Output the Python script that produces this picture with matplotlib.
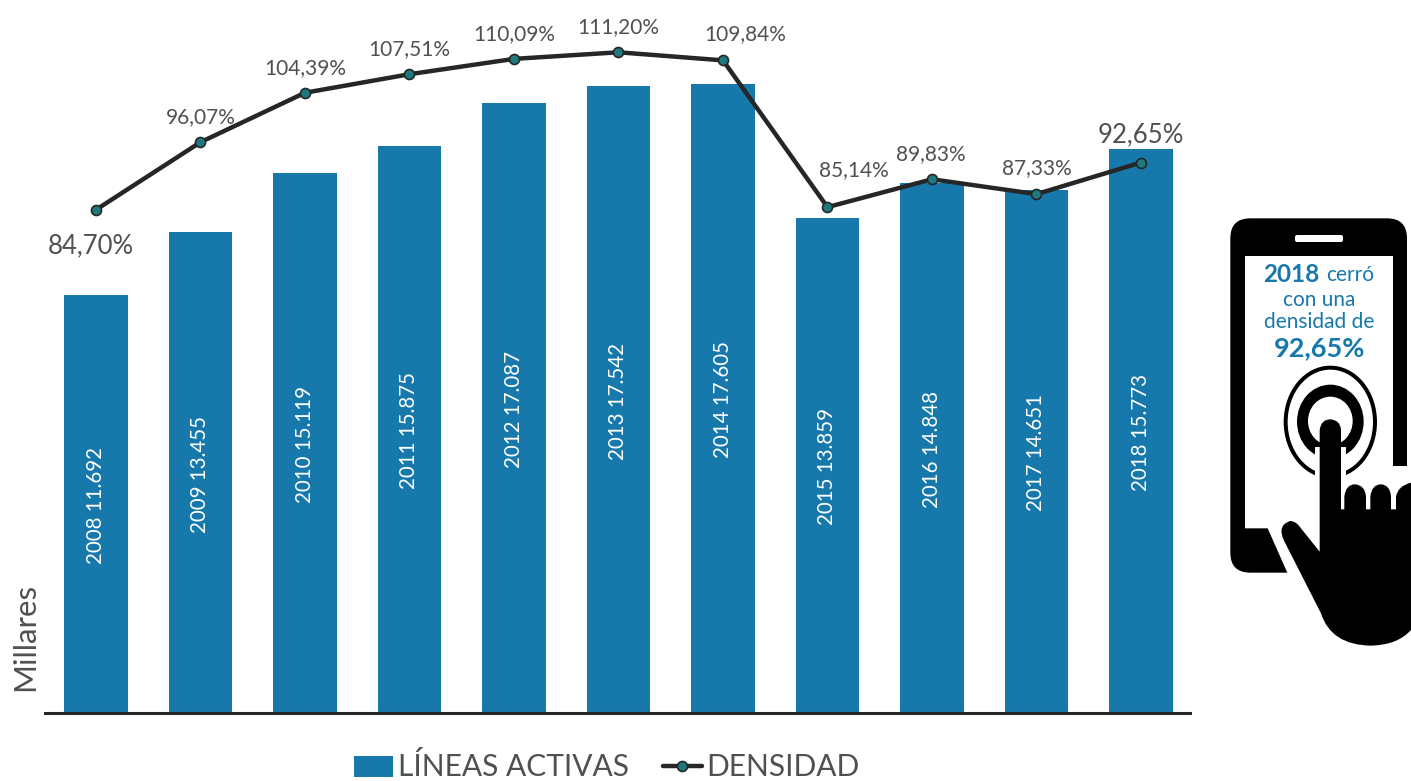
#!/usr/bin/env python3
"""Lineas activas (bars) and densidad (line), 2008-2018, with the phone icon on the right."""

import matplotlib

matplotlib.use("Agg")
import matplotlib.pyplot as plt
from matplotlib.patches import Ellipse, FancyBboxPatch, PathPatch, Polygon
from matplotlib.path import Path

plt.rcParams["font.family"] = ["Lato", "DejaVu Sans"]

YEARS = [2008, 2009, 2010, 2011, 2012, 2013, 2014, 2015, 2016, 2017, 2018]
LINEAS = [11692, 13455, 15119, 15875, 17087, 17542, 17605, 13859, 14848, 14651, 15773]
DENSIDAD = [84.70, 96.07, 104.39, 107.51, 110.09, 111.20, 109.84, 85.14, 89.83, 87.33, 92.65]
DENSIDAD_LABELS = ["84,70%", "96,07%", "104,39%", "107,51%", "110,09%", "111,20%",
                   "109,84%", "85,14%", "89,83%", "87,33%", "92,65%"]

# label offset from its point, in points (x, y)
LABEL_OFFSETS = [(-4, -26), (0, 18), (0, 18), (0, 18), (0, 18), (0, 18),
                 (16, 19), (19, 27), (-1, 18), (0, 19), (0, 20)]
LABEL_SIZES = [18.5, 15, 15, 15, 15, 15, 15, 15, 15, 15, 18.5]

BLUE = "#1779ab"
TEXT = "#505050"
DARK = "#262626"
TEAL = "#1f7a80"


def z(x, y):
    """Icon sketch coordinates (3x crop) to figure pixels."""
    return (1211 + x / 3.0, 200 + y / 3.0)


def draw_icon(fig):
    ax = fig.add_axes([0, 0, 1, 1], facecolor="none")
    ax.set_xlim(0, 1411)
    ax.set_ylim(781, 0)
    ax.set_axis_off()

    # phone body, screen and the opening around the hand
    x0, y0 = z(58, 55)
    x1, y1 = z(588, 1118)
    ax.add_patch(FancyBboxPatch((x0 + 20, y0 + 20), x1 - x0 - 40, y1 - y0 - 40,
                                boxstyle="round,pad=20,rounding_size=20", fc="black", ec="none"))
    screen = [(170, 985), (232, 1125), (600, 1125), (600, 798), (546, 798),
              (546, 168), (102, 168), (102, 985)]
    ax.add_patch(Polygon([z(*p) for p in screen], fc="white", ec="none"))
    sx, sy = z(252, 105)
    ax.add_patch(FancyBboxPatch((sx + 2, sy + 2), 44, 3, boxstyle="round,pad=2,rounding_size=2",
                                fc="white", ec="none"))

    # rings
    for w, h, cy, fc in [(280, 338, 666, "black"), (256, 314, 666, "white"),
                         (200, 222, 665, "black"), (134, 146, 663, "white")]:
        c = z(358, cy)
        ax.add_patch(Ellipse(c, w / 3.0, h / 3.0, fc=fc, ec="none"))

    # white gap round the finger, then the hand
    ax.add_patch(Polygon([z(*p) for p in [(312, 740), (404, 740), (404, 860), (312, 860)]],
                         fc="white", ec="none"))
    M, L, C = Path.MOVETO, Path.LINETO, Path.CURVE3
    hand = [
        (M, (326, 690)), (C, (330, 658)), (L, (358, 658)), (C, (388, 660)), (L, (390, 690)),
        (L, (390, 928)), (L, (400, 928)), (L, (400, 890)), (C, (404, 853)), (L, (432, 853)),
        (C, (462, 855)), (L, (465, 890)), (L, (465, 928)), (L, (478, 928)), (L, (478, 890)),
        (C, (482, 853)), (L, (510, 853)), (C, (538, 855)), (L, (540, 890)), (L, (540, 928)),
        (L, (555, 928)), (L, (555, 890)), (C, (560, 858)), (L, (600, 848)), (L, (600, 1290)),
        (C, (560, 1335)), (L, (480, 1337)), (C, (360, 1335)), (L, (330, 1240)), (L, (218, 1020)),
        (C, (198, 975)), (L, (238, 963)), (C, (255, 963)), (L, (270, 985)), (L, (326, 1055)),
        (L, (326, 690)),
    ]
    verts = [z(*p) for _, p in hand]
    codes = [c for c, _ in hand]
    ax.add_patch(PathPatch(Path(verts, codes), fc="black", ec="none"))

    # text on the screen
    ax.text(1319, 274, "2018", color=BLUE, fontsize=17.5, fontweight="bold", ha="right", va="center")
    ax.text(1326, 275, "cerró", color=BLUE, fontsize=15, ha="left", va="center")
    ax.text(1319, 300, "con una", color=BLUE, fontsize=15, ha="center", va="center")
    ax.text(1319, 322, "densidad de", color=BLUE, fontsize=15, ha="center", va="center")
    ax.text(1320, 348, "92,65%", color=BLUE, fontsize=19.5, fontweight="bold", ha="center", va="center")


def main():
    fig = plt.figure(figsize=(14.11, 7.81), dpi=100, facecolor="white")
    ax = fig.add_axes([45 / 1411, 1 - 713 / 781, 1145 / 1411, 713 / 781])
    xs = list(range(len(YEARS)))

    bars = ax.bar(xs, LINEAS, width=0.61, color=BLUE)
    ax.set_xlim(-0.488, 10.469)
    ax.set_ylim(0, 19957)
    for x, year, v in zip(xs, YEARS, LINEAS):
        label = f"{year} {v:,}".replace(",", ".")
        ax.text(x, v / 2.0 - 40, label, rotation=90, color="white", fontsize=14.8,
                ha="center", va="center")

    for s in ("top", "left", "right"):
        ax.spines[s].set_visible(False)
    ax.spines["bottom"].set_linewidth(2.2)
    ax.spines["bottom"].set_color(DARK)
    ax.set_xticks([])
    ax.set_yticks([])
    ax.patch.set_alpha(0)

    ax2 = ax.twinx()
    ax2.set_ylim(0, 120)
    ax2.set_axis_off()
    (line,) = ax2.plot(xs, DENSIDAD, color=DARK, linewidth=3.2, marker="o", markersize=7.2,
                       markerfacecolor=TEAL, markeredgecolor=DARK, markeredgewidth=1.2,
                       solid_capstyle="round")
    for x, v, lab, off, size in zip(xs, DENSIDAD, DENSIDAD_LABELS, LABEL_OFFSETS, LABEL_SIZES):
        ax2.annotate(lab, (x, v), xytext=off, textcoords="offset points", color=TEXT,
                     fontsize=size, ha="center", va="center")

    fig.text(25 / 1411, 1 - 637 / 781, "Millares", rotation=90, color=TEXT, fontsize=22.5,
             ha="center", va="center")

    fig.legend([bars, line], ["LÍNEAS ACTIVAS", "DENSIDAD"], ncol=2, frameon=False,
               loc="center", bbox_to_anchor=(607 / 1411, 1 - 767 / 781),
               prop={"size": 21.5},
               labelcolor=TEXT, handlelength=1.3, handleheight=0.7, handletextpad=0.15,
               columnspacing=1.15, borderpad=0)

    draw_icon(fig)
    fig.savefig("out.png", dpi=100)
    plt.close(fig)


if __name__ == "__main__":
    main()
